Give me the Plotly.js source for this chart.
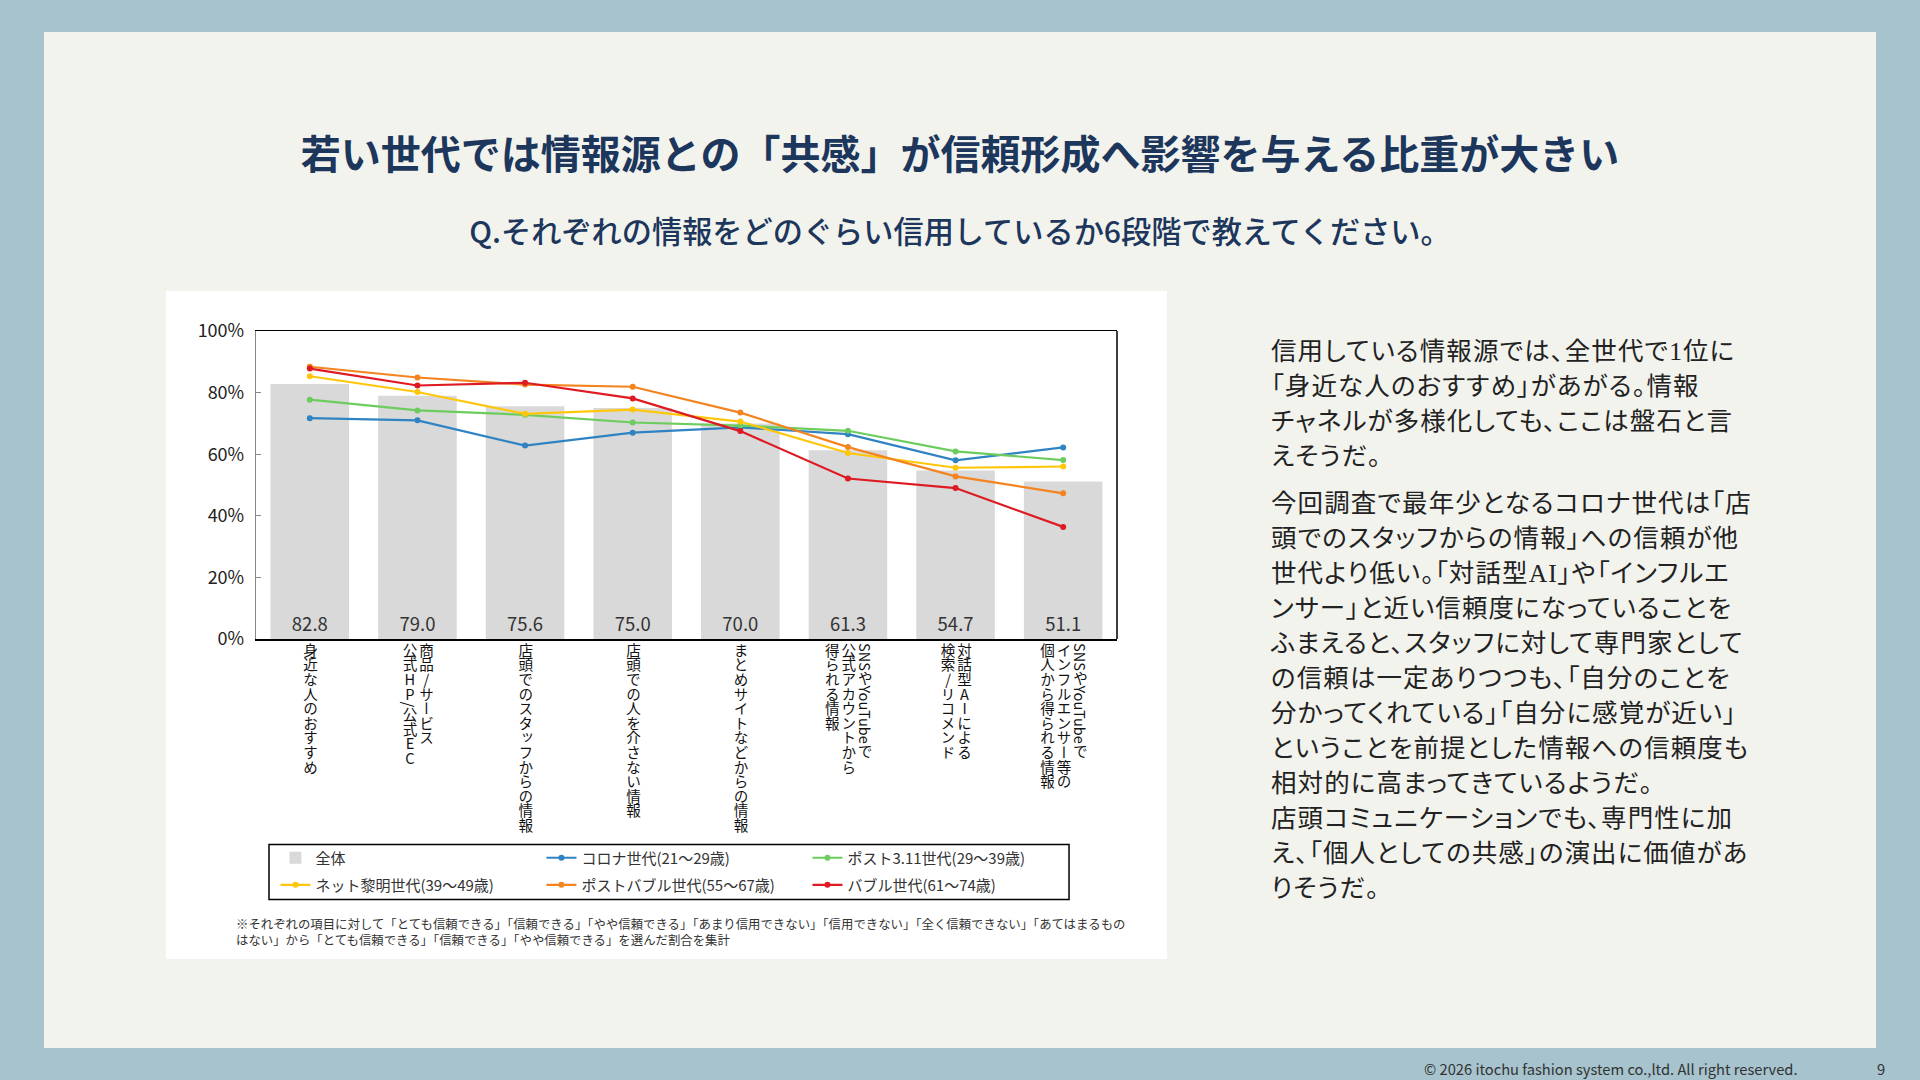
<!DOCTYPE html>
<html>
<head>
<meta charset="utf-8">
<script src="https://cdn.plot.ly/plotly-3.0.1.min.js"></script>
<style>
  html, body { margin: 0; padding: 0; }
  body { width: 1920px; height: 1080px; background: #a6c3ce; position: relative; overflow: hidden;
         font-family: "Noto Sans CJK JP", "Noto Sans", sans-serif; }
  #panel { position: absolute; left: 44px; top: 32px; width: 1832px; height: 1016px; background: #f3f3ee; }
  #title { position: absolute; left: 0; top: 131px; width: 1920px; text-align: center;
           font-size: 40px; line-height: 42px; font-weight: 700; color: #1c365c; }
  #subtitle { position: absolute; left: 0; top: 214px; width: 1920px; text-align: center;
              font-size: 30.2px; line-height: 32px; font-weight: 500; color: #1c365c; }
  #chartbox { position: absolute; left: 166px; top: 291px; width: 1001px; height: 668px; background: #fff; }
  #graph { position: absolute; left: 0; top: 0; width: 1001px; height: 668px; }
  .xlab { position: absolute; writing-mode: vertical-rl; text-orientation: mixed;
          font-family: "Noto Sans CJK JP", sans-serif; font-size: 14.6px; line-height: 16.5px;
          color: #111; white-space: nowrap; transform: translateX(-50%); }
  .xlab .up { text-orientation: upright; }
  #note { position: absolute; left: 1271px; top: 334px; font-size: 25.5px; line-height: 35px; color: #222;
          font-family: "Liberation Serif", "Noto Sans CJK JP", serif; white-space: nowrap;
          font-feature-settings: "palt"; letter-spacing: 1.1px; }
  #note p { margin: 0 0 12px 0; }
  #footer { position: absolute; left: 1424px; top: 1060px; font-size: 14.7px; line-height: 18px; color: #333;
            font-family: "Noto Sans CJK JP", sans-serif; }
  #page { position: absolute; left: 1877px; top: 1060px; font-size: 14.7px; line-height: 18px; color: #333; }
</style>
</head>
<body>
<div id="panel"></div>
<div id="title">若い世代では情報源との「共感」が信頼形成へ影響を与える比重が大きい</div>
<div id="subtitle">Q.それぞれの情報をどのぐらい信用しているか6段階で教えてください。</div>
<div id="chartbox"><div id="graph"></div></div>
<div id="note">
  <p>信用している情報源では、全世代で1位に<br>「身近な人のおすすめ」があがる。情報<br>チャネルが多様化しても、ここは盤石と言<br>えそうだ。</p>
  <p>今回調査で最年少となるコロナ世代は「店<br>頭でのスタッフからの情報」への信頼が他<br>世代より低い。「対話型AI」や「インフルエ<br>ンサー」と近い信頼度になっていることを<br>ふまえると、スタッフに対して専門家として<br>の信頼は一定ありつつも、「自分のことを<br>分かってくれている」「自分に感覚が近い」<br>ということを前提とした情報への信頼度も<br>相対的に高まってきているようだ。<br>店頭コミュニケーションでも、専門性に加<br>え、「個人としての共感」の演出に価値があ<br>りそうだ。</p>
</div>
<div id="footer">© 2026 itochu fashion system co.,ltd. All right reserved.</div>
<div id="page">9</div>

<script>
// categories (\n = next column of the vertical label)
const categories = [
    '身近な人のおすすめ',
    '商品/サービス\n公式HP/公式EC',
    '店頭でのスタッフからの情報',
    '店頭での人を介さない情報',
    'まとめサイトなどからの情報',
    'SNSやYouTubeで\n公式アカウントから\n得られる情報',
    '対話型AIによる\n検索/リコメンド',
    'SNSやYouTubeで\nインフルエンサー等の\n個人から得られる情報'
];

const overall    = [82.8, 79.0, 75.6, 75.0, 70.0, 61.3, 54.7, 51.1];
const corona     = [71.7, 71.0, 62.8, 67.0, 68.7, 66.5, 58.0, 62.2];
const post311    = [77.7, 74.2, 72.8, 70.3, 69.3, 67.6, 60.9, 58.1];
const netDawn    = [85.3, 80.2, 73.1, 74.5, 70.6, 60.4, 55.6, 56.0];
const postBubble = [88.4, 84.9, 82.6, 81.9, 73.5, 62.3, 52.8, 47.3];
const bubble     = [87.8, 82.3, 83.2, 78.1, 67.5, 52.1, 49.0, 36.4];

const seriesNames = ['全体', 'コロナ世代(21～29歳)', 'ポスト3.11世代(29～39歳)',
    'ネット黎明世代(39～49歳)', 'ポストバブル世代(55～67歳)', 'バブル世代(61～74歳)'];

const yTicks = [0, 20, 40, 60, 80, 100];
const yTickText = yTicks.map(v => v + '%');

const footnote = '※それぞれの項目に対して「とても信頼できる」「信頼できる」「やや信頼できる」「あまり信用できない」「信用できない」「全く信頼できない」「あてはまるもの<br>はない」から「とても信頼できる」「信頼できる」「やや信頼できる」を選んだ割合を集計';

const FONT = '"Noto Sans CJK JP", "Noto Sans", sans-serif';

function lineTrace(name, values, color, legendId){
    return {
        type: 'scatter', mode: 'lines+markers', name: name,
        x: categories, y: values,
        line: { color: color, width: 2.2 },
        marker: { color: color, size: 6 },
        legend: legendId,
        hoverinfo: 'skip'
    };
}

const data = [
    {
        type: 'bar', name: seriesNames[0], x: categories, y: overall,
        marker: { color: '#d9d9d9' },
        text: overall.map(v => v.toFixed(1)),
        textposition: 'inside', insidetextanchor: 'start', textangle: 0,
        constraintext: 'none',
        textfont: { family: FONT, size: 18.5, color: '#333' },
        legend: 'legend', hoverinfo: 'skip'
    },
    lineTrace(seriesNames[1], corona,     '#2f83c3', 'legend'),
    lineTrace(seriesNames[2], post311,    '#6dcc5e', 'legend'),
    lineTrace(seriesNames[3], netDawn,    '#ffc60a', 'legend2'),
    lineTrace(seriesNames[4], postBubble, '#f3841f', 'legend2'),
    lineTrace(seriesNames[5], bubble,     '#de1a22', 'legend2')
];

const legendCommon = {
    orientation: 'h', xanchor: 'left', yanchor: 'middle', x: 0.0226,
    entrywidth: 221, bgcolor: 'rgba(0,0,0,0)', borderwidth: 0,
    traceorder: 'normal',
    font: { family: FONT, size: 15, color: '#333' }
};

const layout = {
    width: 1001, height: 668,
    margin: { l: 90, r: 50, t: 40, b: 320 },
    paper_bgcolor: '#ffffff', plot_bgcolor: '#ffffff',
    font: { family: FONT, color: '#222' },
    bargap: 0.27,
    showlegend: true,
    hovermode: false,
    legend: Object.assign({}, legendCommon, { y: -0.711 }),
    legend2: Object.assign({}, legendCommon, { y: -0.799 }),
    xaxis: {
        type: 'category', showticklabels: false, ticks: '',
        showline: true, linecolor: '#000', linewidth: 1.5, mirror: true,
        showgrid: false, fixedrange: true
    },
    yaxis: {
        range: [0, 100], tickmode: 'array', tickvals: yTicks, ticktext: yTickText,
        showgrid: false, zeroline: false,
        showline: true, linecolor: '#888', linewidth: 1.2,
        ticks: 'inside', ticklen: 5, tickcolor: '#888',
        ticklabelstandoff: 7,
        tickfont: { family: FONT, size: 18, color: '#222' },
        fixedrange: true
    },
    shapes: [
        { type: 'line', xref: 'paper', yref: 'paper', x0: 1, x1: 1, y0: 0, y1: 1,
          line: { color: '#000', width: 1.5 } },
        { type: 'rect', xref: 'paper', yref: 'paper', x0: 0.0151, x1: 0.9443, y0: -0.8458, y1: -0.6672,
          line: { color: '#000', width: 1.5 }, fillcolor: 'rgba(0,0,0,0)' }
    ],
    annotations: [
        { xref: 'paper', yref: 'paper', x: -0.0256, y: -0.891, xanchor: 'left', yanchor: 'top',
          align: 'left', showarrow: false, text: footnote,
          font: { family: FONT, size: 12.4, color: '#333' } }
    ]
};

const gd = document.getElementById('graph');
Plotly.newPlot(gd, data, layout, { staticPlot: true, displayModeBar: false }).then(function(){
    // vertical category labels placed with the x axis scale
    const xa = gd._fullLayout.xaxis;
    const ya = gd._fullLayout.yaxis;
    const box = document.getElementById('chartbox');
    categories.forEach(function(cat, i){
        const el = document.createElement('div');
        el.className = 'xlab';
        el.innerHTML = cat.split('\n').map(function(col){
            return col.replace(/(^|[^A-Za-z])([A-Z]{2}|\/)(?![A-Za-z])/g, '$1<span class="up">$2</span>');
        }).join('<br>');
        el.style.left = (xa._offset + xa.l2p(i)) + 'px';
        el.style.top = (ya._offset + ya._length + 4) + 'px';
        box.appendChild(el);
    });
});
</script>
</body>
</html>
